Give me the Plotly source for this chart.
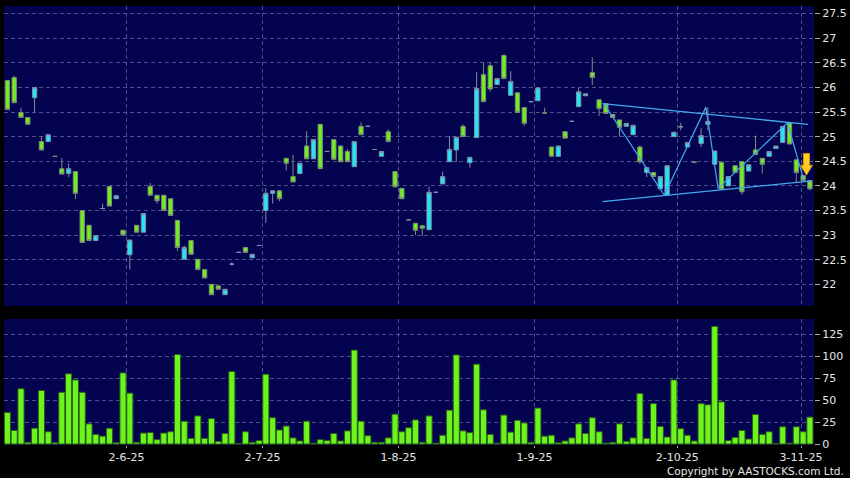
import plotly.graph_objects as go

# ---- data ----
opens = [26.14, 26.2, 25.49, 25.39, 25.79, 24.9, 24.9, 24.6, 24.35, 24.25,
         24.29, 23.5, 23.2, 22.89, 23.54, 23.99, 23.74, 23.1, 22.6, 23.2,
         23.06, 23.99, 23.81, 23.81, 23.74, 23.3, 22.51, 22.89, 22.51, 22.3,
         22.0, 21.97, 21.79, 22.41, 22.65, 22.75, 22.54, 22.79, 23.5, 23.85,
         23.9, 24.56, 24.19, 24.25, 24.81, 24.55, 25.25, 24.7, 24.94, 24.81,
         24.7, 24.39, 25.21, 25.21, 24.74, 24.6, 25.1, 24.29, 23.95, 23.31,
         23.24, 23.19, 23.11, 23.87, 24.04, 24.49, 24.73, 25.21, 24.47, 24.98,
         26.26, 26.44, 26.06, 26.65, 25.84, 25.89, 25.59, 25.71, 25.73, 25.48,
         24.79, 24.6, 25.1, 25.31, 25.61, 25.83, 26.3, 25.75, 25.67, 25.45,
         25.34, 25.21, 25.04, 24.79, 24.27, 24.27, 23.94, 23.81, 25.0, 25.2,
         24.79, 24.48, 24.86, 25.25, 24.44, 24.48, 24.0, 24.41, 24.49, 24.3,
         24.73, 24.56, 24.6, 24.76, 24.88, 25.28, 24.53, 24.21, 24.11]
highs = [26.14, 26.24, 25.59, 25.39, 26.0, 25.01, 25.04, 24.6, 24.56, 24.46,
         24.29, 23.5, 23.2, 22.99, 23.64, 23.99, 23.8, 23.1, 22.9, 23.2,
         23.44, 24.06, 23.81, 23.81, 23.74, 23.3, 22.79, 22.89, 22.51, 22.3,
         22.0, 21.97, 21.9, 22.45, 22.65, 22.75, 22.61, 22.79, 23.95, 23.9,
         23.9, 24.56, 24.63, 24.46, 25.11, 24.94, 25.25, 24.7, 24.94, 24.81,
         24.75, 24.9, 25.29, 25.21, 24.74, 24.7, 25.15, 24.29, 23.95, 23.31,
         23.24, 23.19, 23.99, 23.87, 24.29, 25.01, 24.99, 25.25, 24.58, 26.31,
         26.51, 26.51, 26.18, 26.67, 26.33, 25.89, 25.59, 25.71, 25.99, 25.59,
         24.79, 24.81, 25.1, 25.33, 26.0, 25.87, 26.61, 25.75, 25.67, 25.45,
         25.34, 25.27, 25.23, 24.82, 24.37, 24.27, 24.19, 24.41, 25.09, 25.28,
         24.88, 24.5, 25.17, 25.59, 24.71, 24.48, 24.19, 24.41, 24.49, 24.43,
         25.02, 24.56, 24.7, 24.81, 25.21, 25.28, 24.53, 24.21, 24.11]
lows = [25.55, 25.69, 25.39, 25.25, 25.49, 24.73, 24.9, 24.6, 24.24, 24.18,
        23.73, 22.85, 22.89, 22.89, 23.54, 23.59, 23.74, 23.0, 22.3, 23.06,
        23.06, 23.81, 23.64, 23.5, 23.4, 22.68, 22.51, 22.61, 22.3, 22.13,
        21.79, 21.9, 21.79, 22.38, 22.65, 22.65, 22.54, 22.79, 23.25, 23.64,
        23.69, 24.31, 24.08, 24.25, 24.55, 24.55, 24.35, 24.7, 24.54, 24.49,
        24.49, 24.39, 25.04, 25.21, 24.74, 24.6, 24.9, 23.98, 23.74, 23.31,
        23.0, 22.98, 23.11, 23.87, 24.04, 24.49, 24.49, 25.0, 24.37, 24.98,
        25.71, 25.92, 26.06, 26.18, 25.84, 25.49, 25.22, 25.71, 25.73, 25.48,
        24.6, 24.6, 24.97, 25.31, 25.61, 25.83, 26.05, 25.42, 25.47, 25.39,
        25.0, 25.21, 25.04, 24.45, 24.18, 24.19, 23.94, 23.81, 25.0, 25.13,
        24.79, 24.46, 24.79, 25.13, 24.44, 23.93, 24.0, 24.27, 23.82, 24.3,
        24.64, 24.25, 24.6, 24.76, 24.88, 24.85, 24.08, 24.11, 23.91]
closes = [25.55, 25.69, 25.39, 25.25, 26.0, 24.73, 25.04, 24.6, 24.24, 24.35,
          23.85, 22.85, 22.89, 22.99, 23.54, 23.59, 23.8, 23.0, 22.9, 23.06,
          23.44, 23.81, 23.7, 23.5, 23.4, 22.75, 22.75, 22.61, 22.3, 22.13,
          21.79, 21.9, 21.9, 22.41, 22.65, 22.65, 22.61, 22.79, 23.85, 23.9,
          23.74, 24.46, 24.08, 24.46, 24.55, 24.94, 24.35, 24.7, 24.54, 24.49,
          24.49, 24.9, 25.04, 25.21, 24.74, 24.7, 24.9, 23.98, 23.74, 23.31,
          23.1, 23.14, 23.87, 23.87, 24.19, 24.74, 24.99, 25.0, 24.58, 25.98,
          25.71, 25.97, 26.18, 26.18, 26.12, 25.49, 25.27, 25.71, 25.99, 25.48,
          24.6, 24.81, 24.97, 25.31, 25.91, 25.87, 26.2, 25.57, 25.47, 25.39,
          25.19, 25.27, 25.23, 24.49, 24.37, 24.19, 24.19, 24.41, 25.09, 25.2,
          24.88, 24.48, 25.02, 25.31, 24.71, 23.93, 24.19, 24.27, 23.88, 24.43,
          24.64, 24.44, 24.7, 24.81, 25.21, 24.85, 24.27, 24.11, 23.94]
volumes = [36, 15.5, 63, 2, 18, 61, 14, 1.5, 59, 80,
           73, 59, 23, 11, 9, 18, 1.5, 81, 58, 2,
           12.5, 13, 5, 12.5, 14, 102, 26, 6.5, 32, 6.5,
           29, 3, 12, 82.6, 0.5, 14, 2, 4, 79.5, 30,
           16, 20.5, 7, 3.5, 26, 1, 5, 4, 12, 3.5,
           15, 107, 26, 9.5, 2, 2, 7, 34, 14, 18.5,
           27.5, 2, 32, 1, 10, 38.6, 101.5, 15, 13, 91,
           39, 11, 1, 33, 13.6, 27, 24, 2, 41, 9,
           10, 1.5, 3.5, 7, 23, 12, 30, 14, 1, 2,
           23, 3, 7, 57.6, 6.5, 46, 20, 8, 73, 17.5,
           10, 3.5, 46, 44.7, 134, 48, 4, 7.6, 15.5, 5.7,
           33.7, 11, 14, 0.5, 19.7, 1, 19.7, 14, 30.7]
idx = list(range(len(closes)))

date_tick_pos = [17.5, 37.5, 57.5, 77.5, 98.5, 116.7]
date_tick_text = ["2-6-25", "2-7-25", "1-8-25", "1-9-25", "2-10-25", "3-11-25"]
price_ticks = [22, 22.5, 23, 23.5, 24, 24.5, 25, 25.5, 26, 26.5, 27, 27.5]
vol_ticks = [0, 25, 50, 75, 100, 125]

# drawn annotations (index, price)
upper_line_x = [87.5, 117.7]
upper_line_y = [25.67, 25.25]
lower_line_x = [87.5, 118.3]
lower_line_y = [23.68, 24.10]
zigzag_x = [87.7, 96.6, 102.7, 104.5, 114.7, 117.1]
zigzag_y = [25.67, 23.81, 25.60, 23.95, 25.28, 24.12]
arrow_x_center = 117.5
arrow_top, arrow_head, arrow_tip = 24.66, 24.42, 24.22
arrow_shaft_hw, arrow_head_hw = 0.44, 0.88

BG = "#03034f"
GRID = "rgba(140,140,190,0.55)"
TXT = "#e6e6e6"

fig = go.Figure()
fig.add_trace(go.Candlestick(
    x=idx, open=opens, high=highs, low=lows, close=closes,
    increasing=dict(fillcolor="#22e6f6", line=dict(color="#7f90a8", width=1)),
    decreasing=dict(fillcolor="#70ee20", line=dict(color="#7e8c78", width=1)),
    whiskerwidth=0, xaxis="x", yaxis="y", showlegend=False, hoverinfo="skip"))

fig.add_trace(go.Scatter(x=upper_line_x, y=upper_line_y, mode="lines",
                         line=dict(color="#44a8ee", width=1.3), xaxis="x", yaxis="y", hoverinfo="skip"))
fig.add_trace(go.Scatter(x=lower_line_x, y=lower_line_y, mode="lines",
                         line=dict(color="#44a8ee", width=1.3), xaxis="x", yaxis="y", hoverinfo="skip"))
fig.add_trace(go.Scatter(x=zigzag_x, y=zigzag_y, mode="lines",
                         line=dict(color="#44a8ee", width=1.2), xaxis="x", yaxis="y", hoverinfo="skip"))

ax = arrow_x_center
arrow_px = [ax - arrow_shaft_hw, ax + arrow_shaft_hw, ax + arrow_shaft_hw, ax + arrow_head_hw,
            ax, ax - arrow_head_hw, ax - arrow_shaft_hw, ax - arrow_shaft_hw]
arrow_py = [arrow_top, arrow_top, arrow_head, arrow_head, arrow_tip, arrow_head, arrow_head, arrow_top]
fig.add_trace(go.Scatter(x=arrow_px, y=arrow_py, mode="lines", fill="toself",
                         fillcolor="#ffcc22", line=dict(color="#d98a10", width=1),
                         xaxis="x", yaxis="y", hoverinfo="skip"))

fig.add_trace(go.Bar(x=idx, y=volumes, marker=dict(color="#6cf51c", line=dict(color="#2d5a1c", width=1)),
                     xaxis="x2", yaxis="y2", showlegend=False, hoverinfo="skip"))

xcommon = dict(range=[-0.5, 118.6], tickmode="array", tickvals=date_tick_pos,
               showgrid=True, gridcolor=GRID, griddash="4px,3px", gridwidth=1,
               zeroline=False, showline=False, fixedrange=True)
fig.update_layout(
    width=850, height=478,
    margin=dict(l=4, r=36, t=6, b=33),
    paper_bgcolor="black", plot_bgcolor=BG,
    font=dict(family="DejaVu Sans", color=TXT, size=11),
    showlegend=False, boxgap=0.1, bargap=0.1,
    xaxis=dict(**xcommon, domain=[0, 1], anchor="y", showticklabels=False,
               rangeslider=dict(visible=False)),
    xaxis2=dict(**xcommon, domain=[0, 1], anchor="y2", matches="x",
                ticktext=date_tick_text, ticks="outside", ticklen=2,
                tickcolor="#aaaaaa", tickfont=dict(size=11, color=TXT),
                ticklabelstandoff=0),
    yaxis=dict(domain=[0.3166, 1], range=[21.56, 27.654], side="right",
               tickmode="array", tickvals=price_ticks, ticks="outside", ticklen=5,
               tickcolor="#aaaaaa", tickfont=dict(size=11, color=TXT),
               showgrid=True, gridcolor=GRID, griddash="4px,3px", zeroline=False,
               showline=False, anchor="x", fixedrange=True),
    yaxis2=dict(domain=[0, 0.287], range=[-1.1, 142.4], side="right",
                tickmode="array", tickvals=vol_ticks, ticks="outside", ticklen=5,
                tickcolor="#aaaaaa", tickfont=dict(size=11, color=TXT),
                showgrid=True, gridcolor=GRID, griddash="4px,3px", zeroline=False,
                showline=False, anchor="x2", fixedrange=True),
    annotations=[dict(text="Copyright by AASTOCKS.com Ltd.", xref="paper", yref="paper",
                      x=1.0395, y=-0.0592, xanchor="right", yanchor="middle",
                      showarrow=False, font=dict(size=10.5, color=TXT))],
)

fig.write_html("out.html", config={"displayModeBar": False},
               post_script="document.body.style.margin='0';document.body.style.background='black';")
